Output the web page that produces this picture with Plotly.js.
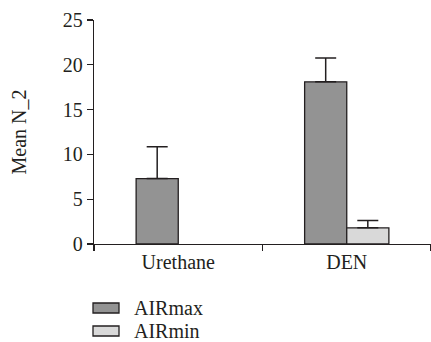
<!DOCTYPE html>
<html>
<head>
<meta charset="utf-8">
<script src="https://cdn.plot.ly/plotly-3.0.1.min.js"></script>
<style>html,body{margin:0;padding:0;background:#fff}#chart{width:431px;height:342px}</style>
</head>
<body>
<div id="chart"></div>
<script>
var categories = ["Urethane", "DEN"];
var seriesNames = ["AIRmax", "AIRmin"];
var airmaxValues = [7.3, 18.1];
var airmaxErrors = [3.55, 2.65];
var airminValues = [null, 1.8];
var airminErrors = [null, 0.82];
var yTicks = [0, 5, 10, 15, 20, 25];
var seriesColors = ["#939393", "#d9d9d9"];

var ink = "#231f20";
var font = {family: "Liberation Serif, Times New Roman, serif", size: 20, color: ink};

var M = {l: 94, r: 0, t: 20, b: 98};
var W = 431, H = 342;
var pw = W - M.l - M.r, ph = H - M.t - M.b;
function px(x) { return (x - M.l) / pw; }
function py(y) { return (H - M.b - y) / ph; }

var traces = [
  {
    type: "bar", name: seriesNames[0], x: categories, y: airmaxValues,
    marker: {color: seriesColors[0], line: {color: ink, width: 1.3}},
    error_y: {type: "data", array: airmaxErrors, symmetric: false, arrayminus: [0, 0], color: ink, thickness: 1.5, width: 10.5}
  },
  {
    type: "bar", name: seriesNames[1], x: categories, y: airminValues,
    marker: {color: seriesColors[1], line: {color: ink, width: 1.3}},
    error_y: {type: "data", array: airminErrors, symmetric: false, arrayminus: [0, 0], color: ink, thickness: 1.5, width: 10.5}
  }
];

// custom legend (swatches + labels)
var shapes = [], annotations = [];
var rowY = [308, 331];
for (var i = 0; i < seriesNames.length; i++) {
  shapes.push({type: "rect", xref: "paper", yref: "paper",
    x0: px(93), x1: px(119), y0: py(rowY[i] - 5), y1: py(rowY[i] + 5),
    fillcolor: seriesColors[i], line: {color: ink, width: 1.3}});
  annotations.push({xref: "paper", yref: "paper", x: px(132), y: py(rowY[i]),
    xanchor: "left", yanchor: "middle", showarrow: false, text: seriesNames[i], font: font});
}

var layout = {
  width: W, height: H,
  margin: {l: M.l, r: M.r, t: M.t, b: M.b, autoexpand: false},
  paper_bgcolor: "#fff", plot_bgcolor: "#fff",
  font: font,
  barmode: "group", bargap: 0.5, bargroupgap: 0,
  showlegend: false,
  shapes: shapes, annotations: annotations,
  xaxis: {
    type: "category", range: [-0.5, 1.5], showline: true, linecolor: ink, linewidth: 1.3,
    ticks: "outside", tickson: "boundaries", ticklen: 6, tickcolor: ink, tickwidth: 1.3,
    showgrid: false, zeroline: false, tickfont: font, fixedrange: true
  },
  yaxis: {
    range: [0, 25], tickvals: yTicks, ticktext: yTicks.map(String), showline: true, linecolor: ink, linewidth: 1.3,
    ticks: "outside", ticklen: 6, tickcolor: ink, tickwidth: 1.3, showgrid: false, zeroline: false,
    tickfont: font, title: {text: "Mean N_2", font: font, standoff: 30}, fixedrange: true
  }
};

Plotly.newPlot("chart", traces, layout, {displayModeBar: false, staticPlot: true});
</script>
</body>
</html>
